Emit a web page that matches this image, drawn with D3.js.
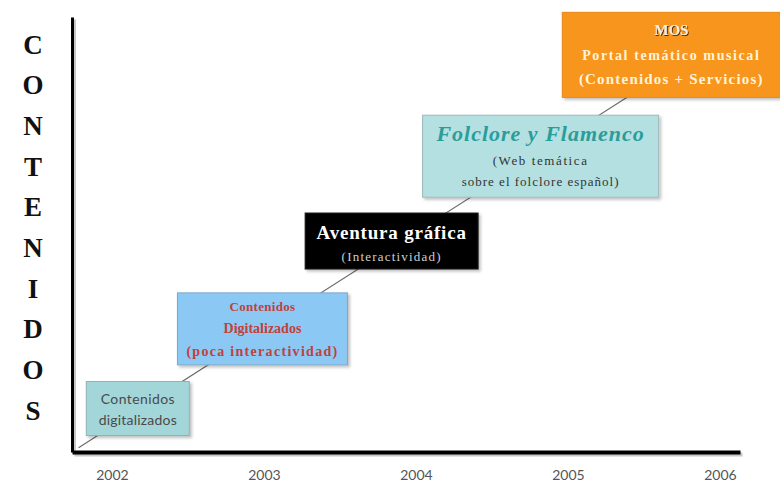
<!DOCTYPE html>
<html>
<head>
<meta charset="utf-8">
<script src="https://cdn.jsdelivr.net/npm/d3@7.9.0/dist/d3.min.js"></script>
<style>
  body { margin: 0; background: #fff; }
  svg { display: block; }
</style>
</head>
<body>
<svg id="chart" width="780" height="485"></svg>
<script>
// data
const years = [2002, 2003, 2004, 2005, 2006];
const axisLetters = ['C', 'O', 'N', 'T', 'E', 'N', 'I', 'D', 'O', 'S'];

// each milestone: position on the time axis and on the "contenidos" scale
const stageYear = [2002.17, 2002.99, 2003.84, 2004.82, 2005.68];
const stageLevel = [1.0, 2.83, 4.85, 6.8, 9.13];
const stageLines = [
  ['Contenidos', 'digitalizados'],
  ['Contenidos', 'Digitalizados', '(poca interactividad)'],
  ['Aventura gráfica', '(Interactividad)'],
  ['Folclore y Flamenco', '(Web temática', 'sobre el folclore español)'],
  ['MOS', 'Portal temático musical', '(Contenidos + Servicios)']
];
const trendYear = [2001.78, 2005.41];
const trendLevel = [0.1, 8.2];

// look of each box (px sizes, colours, text lines offsets)
const boxStyle = [
  { w: 103, h: 54, fill: '#a3d6d9', stroke: '#8fb3b5',
    lines: [{ dy: -9, size: 14, color: '#4a4a4a', family: 'Lato, sans-serif', weight: 400, spacing: 0.4 },
            { dy: 12, size: 14, color: '#4a4a4a', family: 'Lato, sans-serif', weight: 400, spacing: 0.2 }] },
  { w: 170, h: 72, fill: '#8cc8f4', stroke: '#7aa9c9',
    lines: [{ dy: -22, size: 13, color: '#c2403a', weight: 700, spacing: 0.3 },
            { dy: -1, size: 14, color: '#c2403a', weight: 700 },
            { dy: 22, size: 14, color: '#c2403a', weight: 700, spacing: 1.3 }] },
  { w: 173, h: 56, fill: '#000000', stroke: '#1a1a1a',
    lines: [{ dy: -9, size: 19, color: '#ffffff', weight: 700, spacing: 0.8 },
            { dy: 15, size: 13, color: '#cfcfcf', weight: 400, spacing: 1.2 }] },
  { w: 236, h: 82, fill: '#b4e0e1', stroke: '#a0b8b8',
    lines: [{ dy: -23, size: 22, color: '#2a9d9b', weight: 700, style: 'italic', spacing: 1 },
            { dy: 4, size: 13, color: '#333', weight: 400, spacing: 1.6 },
            { dy: 25, size: 13, color: '#333', weight: 400, spacing: 1 }] },
  { w: 218, h: 85, fill: '#f7951d', stroke: '#e8871a',
    lines: [{ dy: -25, size: 15, color: '#f4efe6', weight: 700, shadow: true },
            { dy: 0, size: 14, color: '#fff3dc', weight: 700, spacing: 1.6 },
            { dy: 24, size: 15, color: '#fff3dc', weight: 700, spacing: 1.2 }] }
];

const svg = d3.select('#chart');
const serif = '"Liberation Serif", "DejaVu Serif", serif';

const x = d3.scaleLinear().domain([2001.737, 2006.132]).range([72, 740]);
const y = d3.scaleLinear().domain([0, 10]).range([452, 17]);

const defs = svg.append('defs');
const sh = defs.append('filter').attr('id', 'shadow')
  .attr('x', '-10%').attr('y', '-10%').attr('width', '130%').attr('height', '130%');
sh.append('feDropShadow').attr('dx', 2).attr('dy', 2).attr('stdDeviation', 1.5)
  .attr('flood-color', '#000').attr('flood-opacity', 0.25);
const ts = defs.append('filter').attr('id', 'tshadow');
ts.append('feDropShadow').attr('dx', 1).attr('dy', 1).attr('stdDeviation', 0.5)
  .attr('flood-color', '#000').attr('flood-opacity', 0.7);

// trend line
const trend = trendYear.map((yr, i) => [x(yr), y(trendLevel[i])]);
svg.append('path')
  .attr('d', d3.line()(trend))
  .attr('fill', 'none')
  .attr('stroke', '#6b6b6b')
  .attr('stroke-width', 1.2);

// axes (a soft grey copy underneath acts as the shadow)
function drawAxes(dx, dy, color, cls) {
  const g = svg.append('g').attr('class', cls).attr('transform', `translate(${dx},${dy})`);
  const xa = g.append('g')
    .attr('transform', `translate(0,${y(0)})`)
    .call(d3.axisBottom(x).tickValues(years).tickFormat(d3.format('d')).tickSize(0).tickSizeOuter(0).tickPadding(18));
  xa.select('.domain').attr('stroke', color).attr('stroke-width', 4);
  const ya = g.append('g')
    .attr('transform', `translate(${x.range()[0]},0)`)
    .call(d3.axisLeft(y).tickValues([]).tickSizeOuter(0));
  ya.select('.domain').attr('stroke', color).attr('stroke-width', 3);
  return { xa, ya };
}
const shadowAxes = drawAxes(2, 2, '#c8c8c8', 'axis-shadow');
shadowAxes.xa.selectAll('text').remove();
const axes = drawAxes(0, 0, '#000', 'axis');
axes.xa.selectAll('text')
  .attr('font-family', 'Lato, "DejaVu Sans", sans-serif')
  .attr('font-size', 14)
  .attr('fill', '#555');

// vertical axis title, one letter per row
const letterY = d3.scalePoint().domain(d3.range(axisLetters.length)).range([44, 410]);
svg.append('g').selectAll('text')
  .data(axisLetters)
  .join('text')
  .attr('x', 33)
  .attr('y', (d, i) => letterY(i))
  .attr('dy', '0.36em')
  .attr('text-anchor', 'middle')
  .attr('font-family', serif)
  .attr('font-weight', 700)
  .attr('font-size', 27)
  .attr('fill', '#111')
  .text(d => d);

// milestone boxes
const stages = stageYear.map((yr, i) => ({ cx: x(yr), cy: y(stageLevel[i]), lines: stageLines[i], st: boxStyle[i] }));

const box = svg.append('g').selectAll('g')
  .data(stages)
  .join('g')
  .attr('transform', d => `translate(${d.cx},${d.cy})`);

box.append('rect')
  .attr('x', d => -d.st.w / 2)
  .attr('y', d => -d.st.h / 2)
  .attr('width', d => d.st.w)
  .attr('height', d => d.st.h)
  .attr('fill', d => d.st.fill)
  .attr('stroke', d => d.st.stroke)
  .attr('stroke-width', 1)
  .attr('filter', 'url(#shadow)');

box.each(function (d) {
  const g = d3.select(this);
  d.lines.forEach((txt, j) => {
    const l = d.st.lines[j];
    g.append('text')
      .attr('x', 0)
      .attr('y', l.dy)
      .attr('dy', '0.35em')
      .attr('text-anchor', 'middle')
      .attr('font-family', l.family || serif)
      .attr('font-size', l.size)
      .attr('font-weight', l.weight)
      .attr('font-style', l.style || 'normal')
      .attr('letter-spacing', l.spacing || 0)
      .attr('fill', l.color)
      .attr('filter', l.shadow ? 'url(#tshadow)' : null)
      .text(txt);
  });
});
</script>
</body>
</html>
